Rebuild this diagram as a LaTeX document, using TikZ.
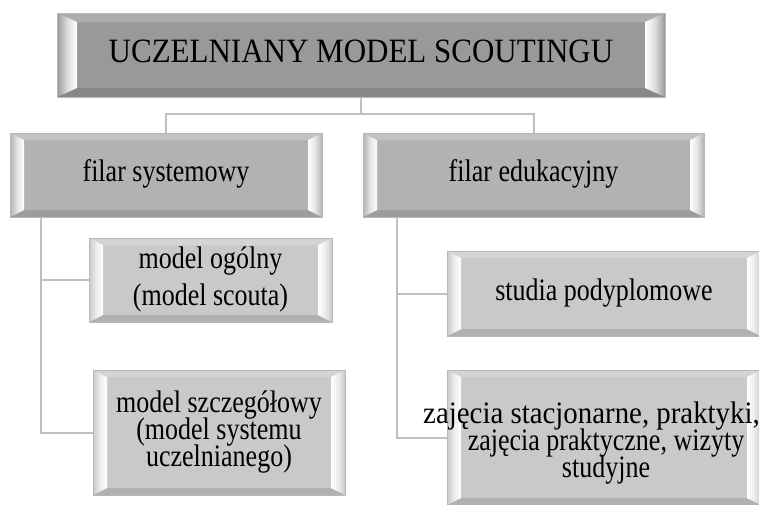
\documentclass[tikz,border=0pt]{standalone}
\usepackage{fontspec}
\usepackage{graphicx}
\setmainfont{Liberation Serif}
\usetikzlibrary{calc}
\definecolor{colA}{gray}{0.60}
\definecolor{colB}{gray}{0.70}
\definecolor{colC}{gray}{0.79}
\newcommand\vtxt[2][1.2]{\scalebox{1}[#1]{\begin{tabular}{@{}c@{}}#2\end{tabular}}}
\tikzset{
  conn/.style={draw=black!25, line width=2pt},
  bevel/.style n args={3}{rectangle, fill=#1, draw=black!28, line width=0.8pt,
    inner sep=0pt, align=center,
    path picture={
      \path (path picture bounding box.north west) coordinate (bvNW)
            (path picture bounding box.south east) coordinate (bvSE);
      \path (bvSE |- bvNW) coordinate (bvNE) (bvNW |- bvSE) coordinate (bvSW);
      \path ($(bvNW)+(#2,#3)$) coordinate (bvA) ($(bvNE)+(-#2,#3)$) coordinate (bvB)
            ($(bvSE)+(-#2,-#3)$) coordinate (bvC) ($(bvSW)+(#2,-#3)$) coordinate (bvD);
      \fill[#1!80!white] (bvNW) -- (bvNE) -- (bvB) -- (bvA) -- cycle;
      \fill[#1!88!black] (bvSW) -- (bvSE) -- (bvC) -- (bvD) -- cycle;
      \shade[left color=#1, right color=white, middle color=#1!35!white] (bvNW) -- (bvA) -- (bvD) -- (bvSW) -- cycle;
      \shade[left color=white, right color=#1, middle color=#1!35!white] (bvNE) -- (bvB) -- (bvC) -- (bvSE) -- cycle;
    }},
  lvlA/.style={bevel={colA}{20}{9}, font=\fontsize{31}{36}\selectfont},
  lvlB/.style={bevel={colB}{14}{7}, font=\fontsize{26}{28}\selectfont},
  lvlC/.style={bevel={colC}{14}{7}, font=\fontsize{26}{28}\selectfont},
  txt/.style={inner sep=0pt, align=center, font=\fontsize{26}{28}\selectfont}
}
\begin{document}
\begin{tikzpicture}[x=1pt, y=-1pt]
\useasboundingbox[fill=white] (0,0) rectangle (759,504);
% boxes
\node[lvlA, minimum width=608pt, minimum height=84pt] (top) at (361,55) {\vtxt[1.1]{UCZELNIANY MODEL SCOUTINGU}};
\node[lvlB, minimum width=312pt, minimum height=84pt] (fs) at (166,175) {\vtxt{filar systemowy}};
\node[lvlB, minimum width=341pt, minimum height=84pt] (fe) at (533.5,175) {\vtxt{filar edukacyjny}};
\node[lvlC, minimum width=243pt, minimum height=84pt] (mo) at (210.5,280) {\vtxt{model ogólny\\[2.8pt](model scouta)}};
\node[lvlC, minimum width=252pt, minimum height=125pt] (ms) at (219,432.5) {\vtxt{model szczegółowy\\[-5.5pt](model systemu\\[-5.5pt]uczelnianego)}};
\node[lvlC, minimum width=314pt, minimum height=85pt] (sp) at (604,293.5) {\vtxt{studia podyplomowe}};
\node[lvlC, minimum width=314pt, minimum height=135pt] (zp) at (604,437.5) {};
\node[txt] (zt) at (606,444) {\vtxt{\scalebox{1.11}[1]{zajęcia stacjonarne, praktyki,}\hspace*{29pt}\\[-5.5pt]zajęcia praktyczne, wizyty\\[-5.5pt]studyjne}};
% connectors
\coordinate (jt) at (361,114);
\draw[conn] (top.south) -- (jt);
\draw[conn] (fs.north) |- (jt) -| (fe.north);
\draw[conn] ([xshift=31pt]fs.south west) |- (mo.west);
\draw[conn] ([xshift=31pt]fs.south west) |- (ms.west);
\draw[conn] ([xshift=34pt]fe.south west) |- (sp.west);
\draw[conn] ([xshift=34pt]fe.south west) |- (zp.west);
\end{tikzpicture}
\end{document}
